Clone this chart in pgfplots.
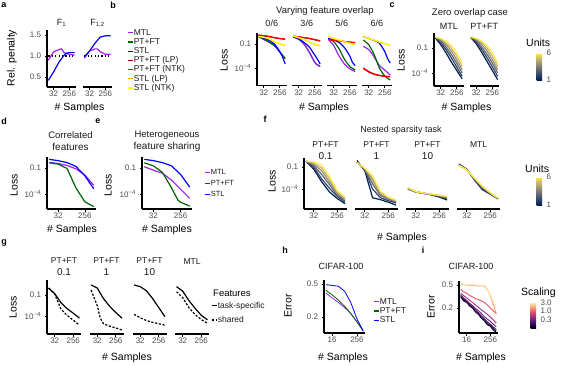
\documentclass[border=0pt]{standalone}
\usepackage{fontspec}
\setmainfont{Liberation Sans}
\usepackage{pgfplots}
\pgfplotsset{compat=1.18}

\definecolor{tickgray}{HTML}{4D4D4D}
\definecolor{strip}{HTML}{1A1A1A}
\definecolor{cMTL}{HTML}{A020F0}
\definecolor{cPT}{HTML}{006400}
\definecolor{cSTL}{HTML}{0000FF}
\definecolor{cPTLP}{HTML}{8B0000}
\definecolor{cPTNTK}{HTML}{FF0000}
\definecolor{cSTLLP}{HTML}{FFA500}
\definecolor{cSTLNTK}{HTML}{FFFF00}
% cividis, units 1..6
\definecolor{u1}{HTML}{00204D}
\definecolor{u2}{HTML}{31446B}
\definecolor{u3}{HTML}{666970}
\definecolor{u4}{HTML}{958F78}
\definecolor{u5}{HTML}{CBBA69}
\definecolor{u6}{HTML}{FFEA46}
% magma, scaling
\definecolor{s10}{HTML}{000004}
\definecolor{s15}{HTML}{1D1147}
\definecolor{s20}{HTML}{3B0F70}
\definecolor{s30}{HTML}{6A1C81}
\definecolor{s50}{HTML}{A5317E}
\definecolor{s100}{HTML}{E65164}
\definecolor{s200}{HTML}{FD9B6B}
\definecolor{s300}{HTML}{FCEFB0}

\newcommand{\fs}[1]{\fontsize{#1}{#1}\selectfont}

\pgfplotsset{
  colormap={magma}{rgb255=(0,0,4) rgb255=(59,15,112) rgb255=(140,41,129) rgb255=(222,73,104) rgb255=(254,159,109) rgb255=(252,253,191)},
  colormap={cividis}{rgb255=(0,32,77) rgb255=(49,68,107) rgb255=(102,105,112) rgb255=(149,143,120) rgb255=(203,186,105) rgb255=(255,234,70)},
  pan/.style={
    scale only axis, anchor=south west,
    axis x line*=bottom, axis y line*=left,
    axis line style={line width=1.1pt},
    tick style={line width=0.7pt, black},
    tick align=outside, major tick length=2.5pt,
    minor tick style={draw=none},
    tick label style={font=\fs{8}, text=tickgray},
    xticklabel style={inner sep=1.5pt},
    every axis plot/.append style={line width=1.2pt},
  },
  noy/.style={axis y line=none},
  lossy/.style={ytick={-4,-1}, yticklabels={10\textsuperscript{−4},0.1}},
  legax/.style={
    hide axis, scale only axis, width=1pt, height=1pt,
    xmin=0, xmax=1, ymin=0, ymax=1, anchor=north west,
    legend style={at={(0,1)}, anchor=north west, draw=none, fill=none,
      inner sep=0pt, text=strip, legend cell align=left},
    legend image code/.code={\draw[##1, line width=1.2pt] (0pt,0pt) -- (5pt,0pt);},
  },
  cbax/.style={
    hide axis, scale only axis, width=0pt, height=0pt, anchor=north west, colorbar,
  },
}

\begin{document}
\begin{tikzpicture}
\useasboundingbox (0pt,0pt) rectangle (567pt,-365pt);

% panel letters
\foreach \l/\x/\y in {a/4/5, b/113/5.5, c/392/5.5, d/4/121.5, e/98/121.5, f/265/119, g/4/243, h/285/250, i/423/250}
  \node[font=\bfseries\fs{9}] at (\x pt,-\y pt) {\l};

% y axis titles
\node[rotate=90, font=\fs{10.5}] at (12pt,-58pt) {Rel. penalty};
\node[rotate=90, font=\fs{10.5}] at (224pt,-60pt) {Loss};
\node[rotate=90, font=\fs{10.5}] at (401pt,-60pt) {Loss};
\node[rotate=90, font=\fs{10.5}] at (14pt,-185pt) {Loss};
\node[rotate=90, font=\fs{10.5}] at (108pt,-185pt) {Loss};
\node[rotate=90, font=\fs{10.5}] at (272pt,-181pt) {Loss};
\node[rotate=90, font=\fs{10.5}] at (13pt,-307pt) {Loss};
\node[rotate=90, font=\fs{10.5}] at (288pt,-306pt) {Error};
\node[rotate=90, font=\fs{10.5}] at (431pt,-307pt) {Error};

% x axis titles
\foreach \x/\y in {79.5/108, 324/108, 466.5/108, 72/230, 167/230, 402/238, 127/358, 343/358, 481/358}
  \node[font=\fs{10.5}] at (\x pt,-\y pt) {\# Samples};

% ================= a =================
\node[font=\fs{9}, text=strip] at (61.5pt,-23pt) {F\textsubscript{1}};
\node[font=\fs{9}, text=strip] at (97.5pt,-23pt) {F\textsubscript{1,2}};
\begin{axis}[pan, xmode=log, log basis x=2, xmin=13.45, xmax=609, xtick={32,256}, xticklabels={32,256},
  at={(47pt,-87pt)}, width=29pt, height=57.5pt,
  ymin=0.262, ymax=1.631, ytick={0.5,1,1.5}, yticklabels={0.5,1.0,1.5}]
\addplot[black, dash pattern=on 1.2pt off 2.2pt] coordinates {(16,1) (512,1)};
\addplot[cMTL] coordinates {(16,0.9) (32,1.1) (64,1.15) (90,1.17) (128,1.08) (256,1.04) (512,1.02)};
\addplot[cSTL] coordinates {(16,0.42) (32,0.62) (64,0.85) (128,1.02) (181,1.07) (256,1.08) (512,1.08)};
\end{axis}
\begin{axis}[pan, noy, xmode=log, log basis x=2, xmin=13.45, xmax=609, xtick={32,256}, xticklabels={32,256},
  at={(83pt,-87pt)}, width=29pt, height=57.5pt, ymin=0.262, ymax=1.631]
\addplot[black, dash pattern=on 1.2pt off 2.2pt] coordinates {(16,1) (512,1)};
\addplot[cMTL] coordinates {(16,0.95) (32,1.12) (64,1.17) (90,1.17) (128,1.1) (256,1.04) (512,1.04)};
\addplot[cSTL] coordinates {(16,0.98) (32,1.12) (64,1.3) (128,1.45) (256,1.48) (512,1.48)};
\end{axis}

% legend a/b
\begin{axis}[legax, at={(127pt,-28.5pt)},
  legend style={font=\fs{8.5}, row sep=0.9pt, nodes={inner sep=0.4pt, text height=6pt, text depth=1.5pt}}]
\addlegendimage{cMTL}\addlegendentry{MTL}
\addlegendimage{cPT}\addlegendentry{PT+FT}
\addlegendimage{cSTL}\addlegendentry{STL}
\addlegendimage{cPTLP}\addlegendentry{PT+FT (LP)}
\addlegendimage{cPTNTK}\addlegendentry{PT+FT (NTK)}
\addlegendimage{cSTLLP}\addlegendentry{STL (LP)}
\addlegendimage{cSTLNTK}\addlegendentry{STL (NTK)}
\end{axis}

% ================= b =================
\node[font=\fs{9.5}, text=strip] at (325pt,-11.5pt) {Varying feature overlap};
\foreach \t/\x in {{0/6}/271.75, {3/6}/306.75, {5/6}/341.75, {6/6}/376.75}
  \node[font=\fs{9}, text=strip] at (\x pt,-23.5pt) {\t};
\begin{axis}[pan, lossy, xmode=log, log basis x=2, xmin=13.45, xmax=609, xtick={32,256}, xticklabels={32,256},
  at={(257pt,-85.5pt)}, width=29.5pt, height=52.5pt,
  ymin=-6.19, ymax=0.375, every axis plot/.append style={smooth, tension=0.4}]
\addplot[cMTL] coordinates {(16,-0.07) (32,-0.42) (64,-0.78) (128,-1.23) (256,-2.03) (512,-2.83)};
\addplot[cPT] coordinates {(16,-0.05) (32,-0.4) (64,-0.75) (128,-1.2) (181,-1.5) (256,-2.0) (512,-2.8)};
\addplot[cSTL] coordinates {(16,0.0) (32,-0.25) (64,-0.55) (128,-1.0) (256,-1.95) (362,-2.6) (512,-3.5)};
\addplot[cPTLP] coordinates {(16,0.1) (32,0.02) (64,-0.08) (128,-0.22) (256,-0.33) (512,-0.4)};
\addplot[cPTNTK] coordinates {(16,0.12) (32,0.05) (64,-0.05) (128,-0.2) (256,-0.3) (512,-0.38)};
\addplot[cSTLLP] coordinates {(16,-0.07) (32,-0.17) (64,-0.37) (128,-0.72) (256,-0.97) (512,-1.17)};
\addplot[cSTLNTK] coordinates {(16,-0.05) (32,-0.15) (64,-0.35) (128,-0.7) (256,-0.95) (512,-1.15)};
\end{axis}
\begin{axis}[pan, noy, xmode=log, log basis x=2, xmin=13.45, xmax=609, xtick={32,256}, xticklabels={32,256},
  at={(292pt,-85.5pt)}, width=29.5pt, height=52.5pt,
  ymin=-6.19, ymax=0.375, every axis plot/.append style={smooth, tension=0.4}]
\addplot[cPT] coordinates {(16,-0.1) (32,-0.42) (64,-1.02) (128,-2.07) (256,-3.32) (362,-3.62) (512,-3.82)};
\addplot[cMTL] coordinates {(16,-0.1) (32,-0.4) (64,-1.0) (128,-2.05) (256,-3.3) (362,-3.6) (512,-3.8)};
\addplot[cSTL] coordinates {(16,-0.1) (32,-0.35) (64,-0.8) (128,-1.4) (256,-2.4) (362,-2.9) (512,-3.5)};
\addplot[cPTLP] coordinates {(16,-0.02) (32,-0.12) (64,-0.22) (128,-0.32) (256,-0.47) (512,-0.62)};
\addplot[cPTNTK] coordinates {(16,0.0) (32,-0.1) (64,-0.2) (128,-0.3) (256,-0.45) (512,-0.6)};
\addplot[cSTLLP] coordinates {(16,-0.02) (32,-0.22) (64,-0.47) (128,-0.77) (256,-1.02) (512,-1.22)};
\addplot[cSTLNTK] coordinates {(16,0.0) (32,-0.2) (64,-0.45) (128,-0.75) (256,-1.0) (512,-1.2)};
\end{axis}
\begin{axis}[pan, noy, xmode=log, log basis x=2, xmin=13.45, xmax=609, xtick={32,256}, xticklabels={32,256},
  at={(327pt,-85.5pt)}, width=29.5pt, height=52.5pt,
  ymin=-6.19, ymax=0.375, every axis plot/.append style={smooth, tension=0.4}]
\addplot[cMTL] coordinates {(16,-0.4) (32,-1.2) (64,-2.5) (128,-3.5) (256,-4.1) (512,-4.45)};
\addplot[cPT] coordinates {(16,-0.3) (32,-0.7) (64,-1.6) (128,-2.9) (256,-3.8) (512,-4.25)};
\addplot[cSTL] coordinates {(16,-0.3) (32,-0.5) (64,-0.8) (128,-1.45) (256,-2.5) (362,-3.3) (512,-3.7)};
\addplot[cPTLP] coordinates {(16,-0.4) (32,-0.5) (64,-0.58) (128,-0.68) (256,-0.76) (512,-0.83)};
\addplot[cPTNTK] coordinates {(16,-0.45) (32,-0.55) (64,-0.6) (128,-0.7) (256,-0.78) (512,-0.85)};
\addplot[cSTLLP] coordinates {(16,-0.12) (32,-0.32) (64,-0.52) (128,-0.72) (256,-0.92) (512,-1.06)};
\addplot[cSTLNTK] coordinates {(16,-0.1) (32,-0.3) (64,-0.5) (128,-0.7) (256,-0.9) (512,-1.04)};
\end{axis}
\begin{axis}[pan, noy, xmode=log, log basis x=2, xmin=13.45, xmax=609, xtick={32,256}, xticklabels={32,256},
  at={(362pt,-85.5pt)}, width=29.5pt, height=52.5pt,
  ymin=-6.19, ymax=0.375, every axis plot/.append style={smooth, tension=0.4}]
\addplot[cMTL] coordinates {(16,-1.3) (32,-1.7) (64,-2.6) (128,-3.7) (256,-4.25) (512,-4.9)};
\addplot[cPT] coordinates {(16,-0.5) (32,-1.1) (64,-2.3) (128,-4.0) (256,-5.0) (512,-5.5)};
\addplot[cSTL] coordinates {(16,-0.1) (32,-0.3) (64,-0.55) (128,-0.9) (256,-1.95) (362,-2.8) (512,-3.4)};
\addplot[cPTLP] coordinates {(16,-4.0) (32,-4.45) (64,-4.75) (128,-4.92) (256,-5.02) (512,-5.08)};
\addplot[cPTNTK] coordinates {(16,-4.05) (32,-4.5) (64,-4.8) (128,-4.95) (256,-5.05) (512,-5.1)};
\addplot[cSTLLP] coordinates {(16,-0.12) (32,-0.32) (64,-0.52) (128,-0.77) (256,-0.97) (512,-1.17)};
\addplot[cSTLNTK] coordinates {(16,-0.1) (32,-0.3) (64,-0.5) (128,-0.75) (256,-0.95) (512,-1.15)};
\end{axis}

% ================= c =================
\node[font=\fs{9.5}, text=strip] at (470pt,-13pt) {Zero overlap case};
\node[font=\fs{9}, text=strip] at (448.75pt,-26pt) {MTL};
\node[font=\fs{9}, text=strip] at (484.25pt,-26pt) {PT+FT};
\begin{axis}[pan, lossy, xmode=log, log basis x=2, xmin=13.45, xmax=609, xtick={32,256}, xticklabels={32,256},
  at={(434pt,-86pt)}, width=29.5pt, height=53pt,
  ymin=-5.56, ymax=0.8, every axis plot/.append style={smooth, tension=0.4}]
\addplot[u1] coordinates {(16,0.2) (32,-0.6) (64,-1.6) (128,-2.7) (256,-3.7) (512,-4.7)};
\addplot[u2] coordinates {(16,0.25) (32,-0.35) (64,-1.2) (128,-2.2) (256,-3.3) (512,-4.4)};
\addplot[u3] coordinates {(16,0.25) (32,-0.15) (64,-0.9) (128,-1.8) (256,-2.85) (512,-4.0)};
\addplot[u4] coordinates {(16,0.28) (32,0.0) (64,-0.6) (128,-1.4) (256,-2.45) (512,-3.6)};
\addplot[u5] coordinates {(16,0.3) (32,0.08) (64,-0.4) (128,-1.05) (256,-2.0) (512,-3.2)};
\addplot[u6] coordinates {(16,0.3) (32,0.15) (64,-0.2) (128,-0.75) (256,-1.6) (512,-2.85)};
\end{axis}
\begin{axis}[pan, noy, xmode=log, log basis x=2, xmin=13.45, xmax=609, xtick={32,256}, xticklabels={32,256},
  at={(469.5pt,-86pt)}, width=29.5pt, height=53pt,
  ymin=-5.56, ymax=0.8, every axis plot/.append style={smooth, tension=0.4}]
\addplot[u1] coordinates {(16,0.25) (32,-0.5) (64,-1.5) (128,-2.6) (256,-3.7) (512,-4.8)};
\addplot[u2] coordinates {(16,0.27) (32,-0.3) (64,-1.15) (128,-2.15) (256,-3.25) (512,-4.4)};
\addplot[u3] coordinates {(16,0.28) (32,-0.12) (64,-0.85) (128,-1.75) (256,-2.8) (512,-4.0)};
\addplot[u4] coordinates {(16,0.3) (32,0.02) (64,-0.55) (128,-1.35) (256,-2.4) (512,-3.6)};
\addplot[u5] coordinates {(16,0.3) (32,0.1) (64,-0.35) (128,-1.0) (256,-1.95) (512,-3.2)};
\addplot[u6] coordinates {(16,0.32) (32,0.17) (64,-0.18) (128,-0.7) (256,-1.55) (512,-2.8)};
\end{axis}
\node[font=\fs{10.5}, anchor=west, inner sep=0pt] at (526pt,-43pt) {Units};
\begin{axis}[cbax, at={(528pt,-53pt)}, colormap name=cividis, point meta min=1, point meta max=6,
  colorbar style={at={(parent axis.north west)}, anchor=north west, width=5.5pt, height=27pt,
    ytick={1,6}, yticklabels={1,6}, major tick length=0pt, axis line style={draw=none},
    yticklabel style={font=\fs{8}, text=tickgray, xshift=1pt}}]
\addplot[draw=none] coordinates {(0,0)};
\end{axis}

% ================= d =================
\node[text=strip, align=center] at (70.5pt,-141pt) {\fontsize{9.5}{12}\selectfont Correlated\\features};
\begin{axis}[pan, lossy, xmode=log, log basis x=2, xmin=13.45, xmax=609, xtick={32,256}, xticklabels={32,256},
  at={(47pt,-209pt)}, width=49pt, height=52pt, ymin=-5.73, ymax=0.27]
\addplot[cMTL] coordinates {(16,-0.35) (32,-0.48) (64,-0.7) (128,-1.1) (256,-1.8) (512,-3.0)};
\addplot[cPT] coordinates {(16,-0.4) (32,-0.55) (64,-1.05) (128,-3.3) (256,-4.9) (512,-5.45)};
\addplot[cSTL] coordinates {(16,0.0) (32,-0.15) (64,-0.37) (128,-0.82) (256,-1.9) (512,-3.4)};
\end{axis}

% ================= e =================
\node[text=strip, align=center] at (167pt,-141pt) {\fontsize{9.5}{12}\selectfont Heterogeneous\\feature sharing};
\begin{axis}[pan, lossy, xmode=log, log basis x=2, xmin=13.45, xmax=609, xtick={32,256}, xticklabels={32,256},
  at={(142pt,-209pt)}, width=50pt, height=52pt, ymin=-5.73, ymax=0.27]
\addplot[cMTL] coordinates {(16,-0.85) (32,-1.25) (64,-1.6) (128,-2.4) (256,-3.45) (512,-4.5)};
\addplot[cPT] coordinates {(16,-0.4) (32,-0.75) (64,-1.5) (128,-3.3) (208,-4.7) (256,-4.95) (512,-5.4)};
\addplot[cSTL] coordinates {(16,0.0) (32,-0.15) (64,-0.38) (128,-0.75) (256,-1.75) (512,-3.2)};
\end{axis}
\begin{axis}[legax, at={(204pt,-168.5pt)},
  legend style={font=\fs{7.5}, row sep=3.4pt, nodes={inner sep=0.4pt, text height=5.5pt, text depth=1.3pt}}]
\addlegendimage{cMTL}\addlegendentry{MTL}
\addlegendimage{cPT}\addlegendentry{PT+FT}
\addlegendimage{cSTL}\addlegendentry{STL}
\end{axis}

% ================= f =================
\node[font=\fs{9}, text=strip] at (401pt,-130.5pt) {Nested sparsity task};
\foreach \t/\x in {0.1/325.5, 1/376.5, 10/427.5}
  \node[text=strip, align=center] at (\x pt,-150.2pt) {\fontsize{8.5}{11.5}\selectfont PT+FT\\\t};
\node[font=\fs{8.5}, text=strip] at (478.5pt,-144.5pt) {MTL};
\begin{axis}[pan, lossy, xmode=log, log basis x=2, xmin=13.45, xmax=609, xtick={32,256}, xticklabels={32,256},
  at={(304pt,-209pt)}, width=43pt, height=51pt, ymin=-6.73, ymax=0.23]
\addplot[u1] coordinates {(16,-0.2) (32,-1.3) (64,-3.0) (128,-4.4) (256,-5.3) (512,-6.0)};
\addplot[u2] coordinates {(16,-0.2) (32,-1.0) (64,-2.6) (128,-3.9) (256,-5.0) (512,-5.8)};
\addplot[u3] coordinates {(16,-0.2) (32,-0.8) (64,-2.0) (128,-3.4) (256,-4.8) (512,-5.6)};
\addplot[u4] coordinates {(16,-0.2) (32,-0.6) (64,-1.5) (128,-3.0) (256,-4.6) (512,-5.4)};
\addplot[u5] coordinates {(16,-0.19) (32,-0.45) (64,-1.1) (128,-2.6) (256,-4.4) (512,-5.25)};
\addplot[u6] coordinates {(16,-0.18) (32,-0.3) (64,-0.7) (128,-2.3) (256,-4.2) (512,-5.1)};
\end{axis}
\begin{axis}[pan, noy, xmode=log, log basis x=2, xmin=13.45, xmax=609, xtick={32,256}, xticklabels={32,256},
  at={(355pt,-209pt)}, width=43pt, height=51pt, ymin=-6.73, ymax=0.23]
\addplot[u1] coordinates {(16,-0.1) (32,-1.5) (64,-5.2) (128,-5.45) (256,-5.8) (512,-6.2)};
\addplot[u2] coordinates {(16,-0.3) (32,-1.4) (64,-4.0) (128,-5.2) (256,-5.6) (512,-5.9)};
\addplot[u3] coordinates {(16,-0.35) (32,-1.3) (64,-3.3) (128,-4.9) (256,-5.4) (512,-5.75)};
\addplot[u4] coordinates {(16,-0.38) (32,-1.25) (64,-2.8) (128,-4.7) (256,-5.3) (512,-5.65)};
\addplot[u5] coordinates {(16,-0.4) (32,-1.2) (64,-2.5) (128,-4.5) (256,-5.2) (512,-5.6)};
\addplot[u6] coordinates {(16,-0.4) (32,-1.15) (64,-2.2) (128,-4.3) (256,-5.1) (512,-5.5)};
\end{axis}
\begin{axis}[pan, noy, xmode=log, log basis x=2, xmin=13.45, xmax=609, xtick={32,256}, xticklabels={32,256},
  at={(406pt,-209pt)}, width=43pt, height=51pt, ymin=-6.73, ymax=0.23]
\addplot[u1] coordinates {(16,-4.0) (32,-4.4) (64,-4.6) (128,-4.8) (256,-5.1) (512,-5.5)};
\addplot[u2] coordinates {(16,-3.95) (32,-4.4) (64,-4.6) (128,-4.78) (256,-5.0) (512,-5.35)};
\addplot[u3] coordinates {(16,-3.9) (32,-4.38) (64,-4.58) (128,-4.75) (256,-4.95) (512,-5.25)};
\addplot[u4] coordinates {(16,-3.9) (32,-4.37) (64,-4.57) (128,-4.73) (256,-4.9) (512,-5.15)};
\addplot[u5] coordinates {(16,-3.87) (32,-4.36) (64,-4.56) (128,-4.72) (256,-4.88) (512,-5.05)};
\addplot[u6] coordinates {(16,-3.85) (32,-4.35) (64,-4.55) (128,-4.7) (256,-4.85) (512,-5.0)};
\end{axis}
\begin{axis}[pan, noy, xmode=log, log basis x=2, xmin=13.45, xmax=609, xtick={32,256}, xticklabels={32,256},
  at={(457pt,-209pt)}, width=43pt, height=51pt, ymin=-6.73, ymax=0.23]
\addplot[u1] coordinates {(16,-0.6) (32,-1.3) (64,-2.8) (128,-4.1) (256,-4.7) (512,-5.35)};
\addplot[u2] coordinates {(16,-0.65) (32,-1.32) (64,-2.7) (128,-3.95) (256,-4.65) (512,-5.32)};
\addplot[u3] coordinates {(16,-0.7) (32,-1.35) (64,-2.65) (128,-3.85) (256,-4.6) (512,-5.3)};
\addplot[u4] coordinates {(16,-0.73) (32,-1.37) (64,-2.6) (128,-3.75) (256,-4.55) (512,-5.28)};
\addplot[u5] coordinates {(16,-0.77) (32,-1.39) (64,-2.55) (128,-3.68) (256,-4.52) (512,-5.26)};
\addplot[u6] coordinates {(16,-0.8) (32,-1.4) (64,-2.5) (128,-3.6) (256,-4.5) (512,-5.25)};
\end{axis}
\node[font=\fs{10.5}, anchor=west, inner sep=0pt] at (525pt,-169pt) {Units};
\begin{axis}[cbax, at={(528pt,-177pt)}, colormap name=cividis, point meta min=1, point meta max=6,
  colorbar style={at={(parent axis.north west)}, anchor=north west, width=5.5pt, height=28pt,
    ytick={1,6}, yticklabels={1,6}, major tick length=0pt, axis line style={draw=none},
    yticklabel style={font=\fs{8}, text=tickgray, xshift=1pt}}]
\addplot[draw=none] coordinates {(0,0)};
\end{axis}

% ================= g =================
\foreach \t/\x in {0.1/64, 1/106.5, 10/149.5}
  \node[text=strip, align=center] at (\x pt,-267pt) {\fontsize{8.5}{10.5}\selectfont PT+FT\\\t};
\node[font=\fs{8.5}, text=strip] at (192pt,-261.8pt) {MTL};
\begin{axis}[pan, lossy, xmode=log, log basis x=2, xmin=13.45, xmax=609, xtick={32,256}, xticklabels={32,256},
  at={(47pt,-334pt)}, width=34pt, height=54pt, ymin=-6.57, ymax=1.14]
\addplot[black] coordinates {(16,0.0) (32,-0.8) (64,-2.1) (128,-2.95) (256,-3.6) (512,-4.3)};
\addplot[black, dash pattern=on 2.2pt off 1.6pt] coordinates {(16,0.0) (32,-0.9) (64,-3.0) (128,-3.9) (256,-4.6) (512,-5.3)};
\end{axis}
\begin{axis}[pan, noy, xmode=log, log basis x=2, xmin=13.45, xmax=609, xtick={32,256}, xticklabels={32,256},
  at={(89.5pt,-334pt)}, width=34pt, height=54pt, ymin=-6.57, ymax=1.14]
\addplot[black] coordinates {(16,0.43) (32,0.0) (64,-1.5) (128,-2.6) (256,-3.5) (512,-4.3)};
\addplot[black, dash pattern=on 2.2pt off 1.6pt] coordinates {(16,-0.3) (32,-2.5) (45,-4.3) (64,-5.1) (128,-5.45) (256,-5.7) (512,-6.0)};
\end{axis}
\begin{axis}[pan, noy, xmode=log, log basis x=2, xmin=13.45, xmax=609, xtick={32,256}, xticklabels={32,256},
  at={(132.5pt,-334pt)}, width=34pt, height=54pt, ymin=-6.57, ymax=1.14]
\addplot[black] coordinates {(16,0.43) (32,0.19) (64,-0.4) (128,-1.5) (256,-2.8) (512,-4.1)};
\addplot[black, dash pattern=on 2.2pt off 1.6pt] coordinates {(16,-3.76) (32,-4.25) (64,-4.65) (128,-4.9) (256,-5.1) (512,-5.3)};
\end{axis}
\begin{axis}[pan, noy, xmode=log, log basis x=2, xmin=13.45, xmax=609, xtick={32,256}, xticklabels={32,256},
  at={(175pt,-334pt)}, width=34pt, height=54pt, ymin=-6.57, ymax=1.14]
\addplot[black] coordinates {(16,0.19) (32,-0.45) (64,-1.8) (128,-2.9) (256,-3.9) (512,-4.55)};
\addplot[black, dash pattern=on 2.2pt off 1.6pt] coordinates {(16,-0.53) (32,-1.4) (64,-2.8) (128,-3.8) (256,-4.5) (512,-5.05)};
\end{axis}
\node[font=\fs{9.5}, anchor=west, inner sep=0pt] at (213pt,-293pt) {Features};
\begin{axis}[legax, at={(211pt,-301.5pt)},
  legend style={font=\fs{8.5}, row sep=5.9pt, nodes={inner sep=0.4pt, text height=6pt, text depth=1.5pt}}]
\addlegendimage{black}\addlegendentry{task-specific}
\addlegendimage{black, dash pattern=on 2.2pt off 1.6pt}\addlegendentry{shared}
\end{axis}

% ================= h =================
\node[font=\fs{9}, text=strip] at (341pt,-266pt) {CIFAR-100};
\begin{axis}[pan, xmode=log, log basis x=2, ymode=log, at={(324pt,-333pt)}, width=41pt, height=53pt,
  xmin=6.5, xmax=630, xtick={16,256}, xticklabels={16,256},
  ymin=0.128, ymax=0.558, ytick={0.2,0.5}, yticklabels={0.2,0.5},
  every axis plot/.append style={line width=0.8pt}]
\addplot[cMTL] coordinates {(8,0.39) (16,0.34) (32,0.3) (64,0.26) (128,0.22) (256,0.175) (512,0.135)};
\addplot[cPT] coordinates {(8,0.42) (16,0.37) (32,0.32) (64,0.27) (128,0.22) (256,0.175) (512,0.137)};
\addplot[cSTL] coordinates {(8,0.49) (16,0.48) (32,0.47) (64,0.41) (128,0.3) (256,0.19) (512,0.135)};
\end{axis}
\begin{axis}[legax, at={(373pt,-297.5pt)},
  legend style={font=\fs{8.5}, row sep=0.9pt, nodes={inner sep=0.4pt, text height=6pt, text depth=1.5pt}}]
\addlegendimage{cMTL}\addlegendentry{MTL}
\addlegendimage{cPT}\addlegendentry{PT+FT}
\addlegendimage{cSTL}\addlegendentry{STL}
\end{axis}

% ================= i =================
\node[font=\fs{9}, text=strip] at (471pt,-266pt) {CIFAR-100};
\begin{axis}[pan, xmode=log, log basis x=2, ymode=log, at={(459pt,-333pt)}, width=39pt, height=52pt,
  xmin=6.5, xmax=630, xtick={16,256}, xticklabels={16,256},
  ymin=0.074, ymax=0.586, ytick={0.2,0.5}, yticklabels={0.2,0.5},
  every axis plot/.append style={line width=0.9pt}]
\addplot[s10] coordinates {(8,0.31) (11,0.265) (16,0.25) (23,0.215) (32,0.2) (45,0.17) (64,0.155) (91,0.132) (128,0.12) (181,0.102) (256,0.097) (362,0.083) (512,0.076)};
\addplot[s15] coordinates {(8,0.32) (11,0.28) (16,0.255) (23,0.225) (32,0.205) (45,0.178) (64,0.16) (91,0.138) (128,0.125) (181,0.108) (256,0.1) (362,0.088) (512,0.08)};
\addplot[s20] coordinates {(8,0.33) (11,0.29) (16,0.26) (23,0.23) (32,0.21) (45,0.185) (64,0.165) (91,0.145) (128,0.13) (181,0.115) (256,0.105) (362,0.094) (512,0.085)};
\addplot[s30] coordinates {(8,0.34) (11,0.3) (16,0.27) (23,0.24) (32,0.22) (45,0.195) (64,0.18) (91,0.16) (128,0.142) (181,0.128) (256,0.118) (362,0.105) (512,0.095)};
\addplot[s50] coordinates {(8,0.36) (11,0.33) (16,0.3) (23,0.27) (32,0.25) (45,0.225) (64,0.205) (91,0.185) (128,0.17) (181,0.155) (256,0.14) (362,0.125) (512,0.11)};
\addplot[s100] coordinates {(8,0.42) (11,0.38) (16,0.36) (23,0.33) (32,0.31) (45,0.29) (64,0.28) (91,0.265) (128,0.25) (181,0.225) (256,0.2) (362,0.18) (512,0.16)};
\addplot[s200] coordinates {(8,0.52) (16,0.5) (32,0.49) (64,0.48) (128,0.48) (181,0.42) (256,0.33) (362,0.23) (512,0.16)};
\addplot[s300] coordinates {(8,0.53) (16,0.51) (32,0.5) (64,0.5) (128,0.5) (181,0.43) (256,0.34) (362,0.26) (512,0.2)};
\end{axis}
\node[font=\fs{10.5}, anchor=west, inner sep=0pt] at (521pt,-293pt) {Scaling};
\begin{axis}[cbax, at={(522pt,-302pt)}, colormap name=magma, point meta min=-1, point meta max=0.5,
  colorbar style={at={(parent axis.north west)}, anchor=north west, width=5.5pt, height=26pt,
    ytick={-0.523,0,0.477}, yticklabels={0.3,1.0,3.0}, major tick length=0pt, axis line style={draw=none},
    yticklabel style={font=\fs{8}, text=tickgray, xshift=1pt}}]
\addplot[draw=none] coordinates {(0,0)};
\end{axis}

\end{tikzpicture}
\end{document}
